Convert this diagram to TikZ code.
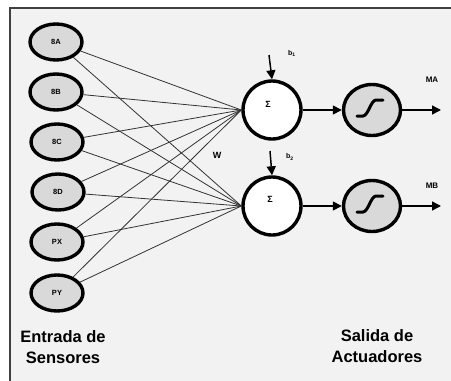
\documentclass[tikz,border=0pt]{standalone}
\usepackage{fontspec}
\setmainfont{Liberation Sans}
\usetikzlibrary{arrows.meta,shapes.geometric}
\definecolor{bgc}{HTML}{F2F2F2}
\definecolor{fillc}{HTML}{D9D9D9}
\definecolor{framec}{HTML}{404040}
\tikzset{
  inbox/.style={ellipse,draw=black,line width=3.4pt,fill=fillc,minimum width=52pt,minimum height=36pt,inner sep=0pt,font=\bfseries\fontsize{7.5}{8}\selectfont},
  sumbox/.style={circle,draw=black,line width=3.4pt,fill=white,minimum size=58pt,inner sep=0pt},
  actbox/.style={ellipse,draw=black,line width=3.4pt,fill=fillc,minimum width=57pt,minimum height=51pt,inner sep=0pt},
  wire/.style={draw=black!80,line width=0.8pt},
  arr/.style={draw=black,line width=1.5pt,-{Triangle[length=9pt,width=9pt]}},
  lbl/.style={font=\bfseries\fontsize{8}{9}\selectfont,inner sep=0pt},
  bigtxt/.style={font=\bfseries\fontsize{16.5}{21}\selectfont,align=center,inner sep=0pt},
  sig/.style={draw=black,line width=3pt,line cap=round},
}
\begin{document}
\begin{tikzpicture}[x=1pt,y=-1pt]
\useasboundingbox (0,0) rectangle (451,381);
\fill[white] (0,0) rectangle (451,381);
\fill[bgc] (10,8) rectangle (452,382);
\draw[framec,line width=1.5pt] (10,382) -- (10,8) -- (452,8);

\node[inbox] (a) at (56,42) {8A};
\node[inbox] (b) at (56,92) {8B};
\node[inbox] (c) at (57,142) {8C};
\node[inbox] (d) at (58,192) {8D};
\node[inbox] (px) at (57,242) {PX};
\node[inbox] (py) at (57,293) {PY};

\node[sumbox] (s1) at (272,110) {};
\node[sumbox] (s2) at (272,206) {};
\node[lbl,font=\bfseries\fontsize{9}{10}\selectfont] (sg1) at (268,104) {Σ};
\node[lbl,font=\bfseries\fontsize{9}{10}\selectfont] (sg2) at (270,199) {Σ};

\foreach \n in {a,b,c,d,px,py}{
  \draw[wire] (\n) -- (s1.west);
  \draw[wire] (\n) -- (s2.west);
}

\node[lbl,font=\bfseries\fontsize{9}{10}\selectfont] (w) at (217,155) {W};

\node[actbox] (f1) at (372,110) {};
\node[actbox] (f2) at (372,206) {};
\draw[sig] (357,116) -- (363,116) .. controls (368,116) and (371,100) .. (376,100) -- (383,100);
\draw[sig] (357,212) -- (363,212) .. controls (368,212) and (371,196) .. (376,196) -- (383,196);

\coordinate (b1s) at (269,55);
\coordinate (b2s) at (270,151);
\draw[arr] (b1s) -- (s1.north);
\draw[arr] (b2s) -- (s2.north);
\node[lbl,font=\bfseries\fontsize{7}{8}\selectfont] (b1) at (292,53) {b\textsubscript{1}};
\node[lbl,font=\bfseries\fontsize{7}{8}\selectfont] (b2) at (290,157) {b\textsubscript{2}};

\draw[arr] (s1.east) -- (f1.west);
\draw[arr] (s2.east) -- (f2.west);
\coordinate (o1) at (441,110);
\coordinate (o2) at (441,206);
\draw[arr] (f1.east) -- (o1);
\draw[arr] (f2.east) -- (o2);
\node[lbl] (ma) at (432,80) {MA};
\node[lbl] (mb) at (432,186) {MB};

\node[bigtxt] (t1) at (63,347) {Entrada de\\Sensores};
\node[bigtxt] (t2) at (377,346) {Salida de\\Actuadores};
\end{tikzpicture}
\end{document}
